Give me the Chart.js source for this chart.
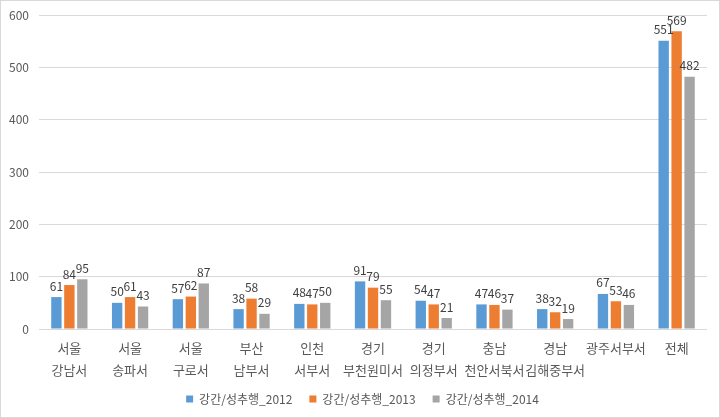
<!DOCTYPE html>
<html>
<head>
<meta charset="utf-8">
<script src="https://cdn.jsdelivr.net/npm/chart.js@4"></script>
<style>
  html, body { margin: 0; padding: 0; background: #fff; }
  #wrap { width: 720px; height: 418px; }
</style>
</head>
<body>
<div id="wrap"><canvas id="chart" width="720" height="418"></canvas></div>
<script>
const categories = [
    ['서울', '강남서'], ['서울', '송파서'], ['서울', '구로서'], ['부산', '남부서'],
    ['인천', '서부서'], ['경기', '부천원미서'], ['경기', '의정부서'], ['충남', '천안서북서'],
    ['경남', '김해중부서'], ['광주서부서'], ['전체']
];
const series2012 = [61, 50, 57, 38, 48, 91, 54, 47, 38, 67, 551];
const series2013 = [84, 61, 62, 58, 47, 79, 47, 46, 32, 53, 569];
const series2014 = [95, 43, 87, 29, 50, 55, 21, 37, 19, 46, 482];
const seriesNames = ['강간/성추행_2012', '강간/성추행_2013', '강간/성추행_2014'];
const yTicks = [0, 100, 200, 300, 400, 500, 600];

const FONT = '"Noto Sans CJK KR", "Noto Sans", sans-serif';

// value labels above each bar
const barLabels = {
    id: 'barLabels',
    afterDatasetsDraw(chart) {
        const ctx = chart.ctx;
        ctx.save();
        ctx.font = '12px ' + FONT;
        ctx.fillStyle = '#404040';
        ctx.textAlign = 'center';
        ctx.textBaseline = 'bottom';
        chart.data.datasets.forEach((ds, i) => {
            chart.getDatasetMeta(i).data.forEach((bar, j) => {
                ctx.fillText(ds.data[j], bar.x, bar.y - 5);
            });
        });
        ctx.restore();
    }
};

// x labels are two lines and run down into the legend band, so don't clip them;
// also nudge the legend so it is centred on the whole picture
const fixLayout = {
    id: 'fixLayout',
    afterLayout(chart) {
        chart.scales.x.bottom = chart.height;
        chart.legend.left += 9;
        chart.legend.right += 9;
    }
};

// thin outer frame like the office chart
const frame = {
    id: 'frame',
    afterDraw(chart) {
        const ctx = chart.ctx;
        ctx.save();
        ctx.strokeStyle = '#d9d9d9';
        ctx.lineWidth = 1;
        ctx.strokeRect(0.5, 0.5, chart.width - 1, chart.height - 1);
        ctx.restore();
    }
};

const colors = ['#5B9BD5', '#ED7D31', '#A5A5A5'];
const allSeries = [series2012, series2013, series2014];

new Chart(document.getElementById('chart'), {
    type: 'bar',
    data: {
        labels: categories,
        datasets: allSeries.map((vals, i) => ({
            label: seriesNames[i],
            data: vals,
            backgroundColor: colors[i],
            barPercentage: 0.8,
            categoryPercentage: 0.64
        }))
    },
    options: {
        responsive: false,
        animation: false,
        layout: { padding: { left: 0, right: 13, top: 0, bottom: 3 } },
        plugins: {
            legend: {
                position: 'bottom',
                labels: {
                    boxWidth: 7,
                    boxHeight: 7,
                    padding: 17,
                    color: '#595959',
                    font: { family: FONT, size: 12 }
                }
            },
            tooltip: { enabled: false }
        },
        scales: {
            x: {
                afterFit(scale) { scale.height = 47; },
                grid: { display: false, drawTicks: false },
                border: { display: false },
                ticks: {
                    color: '#595959',
                    font: { family: FONT, size: 13, lineHeight: 1.7 },
                    maxRotation: 0,
                    autoSkip: false,
                    padding: 8
                }
            },
            y: {
                min: 0,
                max: 600,
                afterBuildTicks(scale) {
                    scale.ticks = yTicks.map(v => ({ value: v }));
                },
                afterFit(scale) {
                    scale.width = 39;
                    scale.paddingTop = 15;
                },
                grid: { color: '#d9d9d9', drawTicks: false },
                border: { display: false },
                ticks: {
                    color: '#595959',
                    font: { family: FONT, size: 12 },
                    padding: 10
                }
            }
        }
    },
    plugins: [barLabels, fixLayout, frame]
});
</script>
</body>
</html>
